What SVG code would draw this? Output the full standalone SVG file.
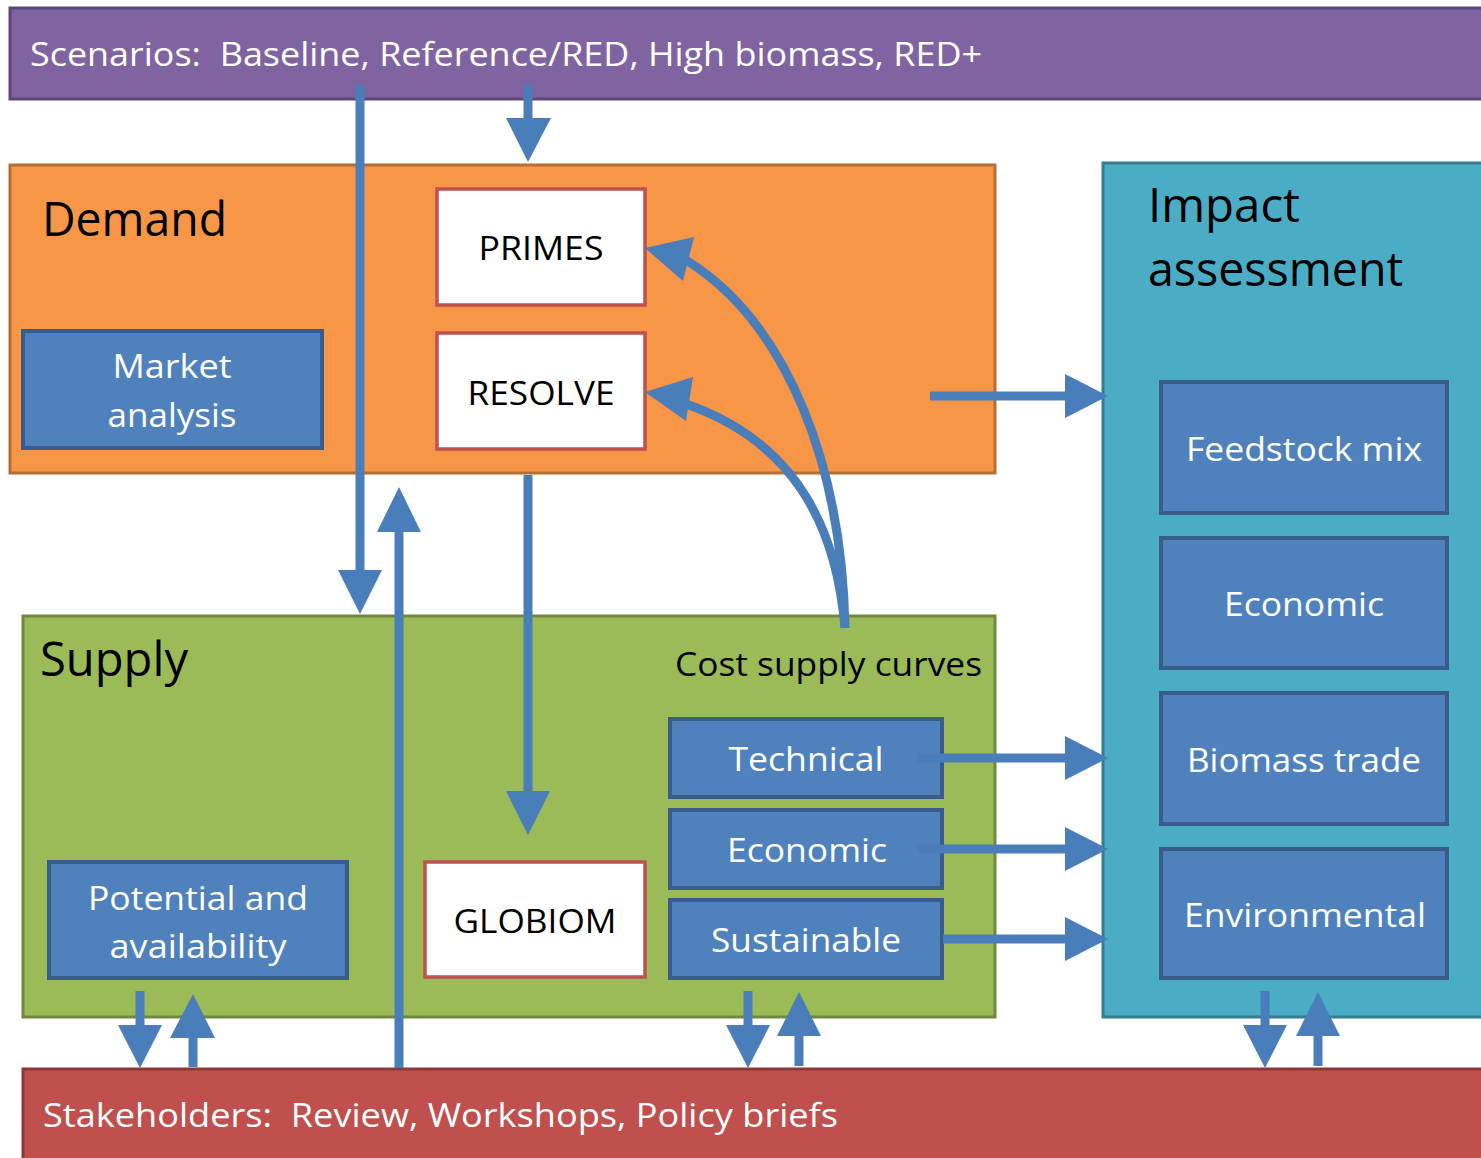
<svg xmlns="http://www.w3.org/2000/svg" width="1481" height="1158" viewBox="0 0 1481 1158">
<style>
text{font-family:"Open Sans","Liberation Sans",sans-serif}
.big{font-size:48px;fill:#000}
.w{font-size:33px;fill:#fff}
.k{font-size:33px;fill:#000}
.pre{white-space:pre}
.blue{fill:#4F81BD;stroke:#385D8A;stroke-width:4}
.red{fill:#fff;stroke:#C0504D;stroke-width:3.5}
.ln{stroke:#4A7EBB;stroke-width:9;fill:none}
.hd{fill:#4A7EBB}
</style>
<rect width="1481" height="1158" fill="#fff"/>
<g id="scenarios">
<rect x="10" y="8" width="1480" height="91" fill="#8064A2" stroke="#5C4776" stroke-width="3"/>
<text class="w pre" xml:space="preserve" x="30" y="66" textLength="952" lengthAdjust="spacingAndGlyphs">Scenarios:  Baseline, Reference/RED, High biomass, RED+</text>
</g>
<g id="demand">
<rect x="10" y="165" width="985" height="308" fill="#F79646" stroke="#B66D31" stroke-width="3"/>
<text class="big" x="42" y="236" textLength="185" lengthAdjust="spacingAndGlyphs">Demand</text>
</g>
<g id="market">
<rect class="blue" x="23" y="331" width="299" height="117"/>
<text class="w" x="172" y="378" text-anchor="middle" textLength="119" lengthAdjust="spacingAndGlyphs">Market</text>
<text class="w" x="172" y="427" text-anchor="middle" textLength="129" lengthAdjust="spacingAndGlyphs">analysis</text>
</g>
<g id="primes">
<rect class="red" x="437" y="189" width="208" height="116"/>
<text class="k" x="541" y="260" text-anchor="middle" textLength="125" lengthAdjust="spacingAndGlyphs">PRIMES</text>
</g>
<g id="resolve">
<rect class="red" x="437" y="333" width="208" height="116"/>
<text class="k" x="541" y="405" text-anchor="middle" textLength="147" lengthAdjust="spacingAndGlyphs">RESOLVE</text>
</g>
<g id="impact">
<rect x="1103" y="163" width="390" height="854" fill="#4BACC6" stroke="#357D91" stroke-width="3"/>
<text class="big" x="1148" y="222" textLength="152" lengthAdjust="spacingAndGlyphs">Impact</text>
<text class="big" x="1148" y="286" textLength="255" lengthAdjust="spacingAndGlyphs">assessment</text>
</g>
<g id="feedstock">
<rect class="blue" x="1161" y="382" width="286" height="131"/>
<text class="w" x="1304" y="461" text-anchor="middle" textLength="236" lengthAdjust="spacingAndGlyphs">Feedstock mix</text>
</g>
<g id="economic-impact">
<rect class="blue" x="1161" y="538" width="286" height="130"/>
<text class="w" x="1304" y="616" text-anchor="middle" textLength="160" lengthAdjust="spacingAndGlyphs">Economic</text>
</g>
<g id="biomass-trade">
<rect class="blue" x="1161" y="693" width="286" height="131"/>
<text class="w" x="1304" y="772" text-anchor="middle" textLength="234" lengthAdjust="spacingAndGlyphs">Biomass trade</text>
</g>
<g id="environmental">
<rect class="blue" x="1161" y="849" width="286" height="129"/>
<text class="w" x="1305" y="927" text-anchor="middle" textLength="242" lengthAdjust="spacingAndGlyphs">Environmental</text>
</g>
<g id="supply">
<rect x="23" y="616" width="972" height="401" fill="#9BBB59" stroke="#71893F" stroke-width="3"/>
<text class="big" x="40" y="676" textLength="148" lengthAdjust="spacingAndGlyphs">Supply</text>
<text class="k" x="675" y="676" textLength="307" lengthAdjust="spacingAndGlyphs">Cost supply curves</text>
</g>
<g id="technical">
<rect class="blue" x="670" y="719" width="272" height="78"/>
<text class="w" x="806" y="771" text-anchor="middle" textLength="155" lengthAdjust="spacingAndGlyphs">Technical</text>
</g>
<g id="economic-supply">
<rect class="blue" x="670" y="810" width="272" height="78"/>
<text class="w" x="807" y="862" text-anchor="middle" textLength="160" lengthAdjust="spacingAndGlyphs">Economic</text>
</g>
<g id="sustainable">
<rect class="blue" x="670" y="900" width="272" height="78"/>
<text class="w" x="806" y="952" text-anchor="middle" textLength="190" lengthAdjust="spacingAndGlyphs">Sustainable</text>
</g>
<g id="globiom">
<rect class="red" x="425" y="862" width="220" height="115"/>
<text class="k" x="535" y="933" text-anchor="middle" textLength="163" lengthAdjust="spacingAndGlyphs">GLOBIOM</text>
</g>
<g id="potential">
<rect class="blue" x="49" y="862" width="298" height="116"/>
<text class="w" x="198" y="910" text-anchor="middle" textLength="220" lengthAdjust="spacingAndGlyphs">Potential and</text>
<text class="w" x="198" y="958" text-anchor="middle" textLength="177" lengthAdjust="spacingAndGlyphs">availability</text>
</g>
<g id="stakeholders">
<rect x="23" y="1069" width="1470" height="100" fill="#C0504D" stroke="#8C3836" stroke-width="3"/>
<text class="w pre" xml:space="preserve" x="43" y="1127" textLength="795" lengthAdjust="spacingAndGlyphs">Stakeholders:  Review, Workshops, Policy briefs</text>
</g>
<g id="connectors">
<line class="ln" x1="360" y1="85" x2="360" y2="572"/>
<polygon class="hd" points="338,570 382,570 360,614"/>
<line class="ln" x1="528" y1="85" x2="528" y2="120"/>
<polygon class="hd" points="506,118 551,118 528,162"/>
<line class="ln" x1="399" y1="1068" x2="399" y2="530"/>
<polygon class="hd" points="377,532 421,532 399,487"/>
<line class="ln" x1="528" y1="475" x2="528" y2="793"/>
<polygon class="hd" points="506,791 550,791 528,835"/>
<path class="ln" d="M845,628 C842,470 790,325 686,260"/>
<polygon class="hd" points="645,248 694,237 683,281"/>
<path class="ln" d="M845,628 C836,520 790,440 686,404"/>
<polygon class="hd" points="645,392 693,377 686,421"/>
<line class="ln" x1="930" y1="396" x2="1068" y2="396"/>
<polygon class="hd" points="1065,374 1065,418 1108,396"/>
<line class="ln" x1="917" y1="758" x2="1068" y2="758"/>
<polygon class="hd" points="1065,736 1065,780 1108,758"/>
<line class="ln" x1="917" y1="849" x2="1068" y2="849"/>
<polygon class="hd" points="1065,827 1065,871 1108,849"/>
<line class="ln" x1="943" y1="939" x2="1068" y2="939"/>
<polygon class="hd" points="1065,917 1065,961 1108,939"/>
<line class="ln" x1="140" y1="991" x2="140" y2="1027"/>
<polygon class="hd" points="118,1025 162,1025 140,1068"/>
<line class="ln" x1="193" y1="1067" x2="193" y2="1036"/>
<polygon class="hd" points="170,1038 215,1038 193,994"/>
<line class="ln" x1="748" y1="991" x2="748" y2="1027"/>
<polygon class="hd" points="726,1025 770,1025 748,1068"/>
<line class="ln" x1="799" y1="1066" x2="799" y2="1034"/>
<polygon class="hd" points="777,1036 821,1036 799,992"/>
<line class="ln" x1="1265" y1="991" x2="1265" y2="1027"/>
<polygon class="hd" points="1243,1025 1287,1025 1265,1068"/>
<line class="ln" x1="1318" y1="1066" x2="1318" y2="1034"/>
<polygon class="hd" points="1296,1036 1340,1036 1318,992"/>
</g>
</svg>
